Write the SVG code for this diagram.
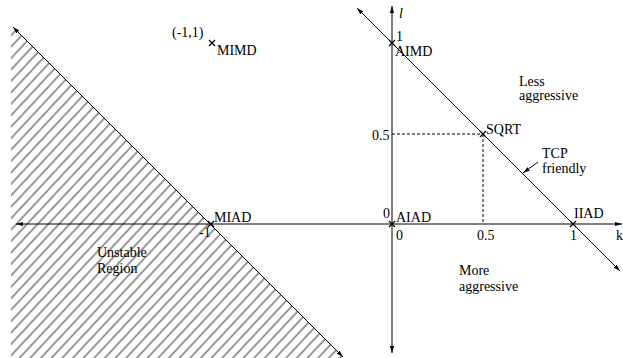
<svg xmlns="http://www.w3.org/2000/svg" width="623" height="358" viewBox="0 0 623 358">
<style>
text{font-family:"Liberation Serif","Times New Roman",serif;font-size:14px;fill:#000}
.ln{stroke:#000;stroke-width:1;fill:none}
.dash{stroke:#000;stroke-width:1;fill:none;stroke-dasharray:3,2}
.x{stroke:#000;stroke-width:1.2;fill:none}
.hl{stroke:#000;stroke-width:0.8}
</style>
<defs>
<marker id="ah" viewBox="0 0 10 10" refX="10" refY="5" markerWidth="7" markerHeight="7" markerUnits="userSpaceOnUse" orient="auto-start-reverse">
<path d="M0,2 L10,5 L0,8 Z" fill="#000"/>
</marker>
<pattern id="hatch" width="7.8" height="10" patternUnits="userSpaceOnUse" patternTransform="rotate(43)">
<line x1="1" y1="0" x2="1" y2="10" class="hl"/>
</pattern>
<clipPath id="cp"><polygon points="11,25 343,357 343,358 11,358"/></clipPath>
</defs>
<g id="unstable-region">
<rect x="0" y="0" width="360" height="358" fill="url(#hatch)" clip-path="url(#cp)"/>
<text x="97" y="257">Unstable</text>
<text x="97" y="273">Region</text>
</g>
<g id="connectors">
<line class="ln" x1="16" y1="224" x2="622" y2="224" marker-start="url(#ah)" marker-end="url(#ah)"/>
<line class="ln" x1="392" y1="6" x2="392" y2="353" marker-start="url(#ah)" marker-end="url(#ah)"/>
<line class="ln" x1="357" y1="8" x2="620" y2="271" marker-start="url(#ah)" marker-end="url(#ah)"/>
<line class="ln" x1="13" y1="27" x2="343" y2="357" marker-start="url(#ah)" marker-end="url(#ah)"/>
<line class="dash" x1="392" y1="134" x2="483" y2="134"/>
<line class="dash" x1="483" y1="134" x2="483" y2="224"/>
<line class="ln" x1="538" y1="162" x2="523" y2="173" marker-end="url(#ah)"/>
</g>
<g id="axis-labels">
<text x="399" y="18" font-style="italic">l</text>
<text x="396" y="41">1</text>
<text x="372" y="140">0.5</text>
<text x="383" y="218">0</text>
<text x="396" y="240">0</text>
<text x="477" y="240">0.5</text>
<text x="570" y="240">1</text>
<text x="616" y="240">k</text>
<text x="199" y="237">-1</text>
</g>
<g id="MIMD">
<path class="x" d="M209,40 L215,46 M215,40 L209,46"/>
<text x="172" y="37">(-1,1)</text>
<text x="217" y="55">MIMD</text>
</g>
<g id="AIMD">
<path class="x" d="M389,40 L395,46 M395,40 L389,46"/>
<text x="395" y="56">AIMD</text>
</g>
<g id="SQRT">
<path class="x" d="M480,131 L486,137 M486,131 L480,137"/>
<text x="486" y="134">SQRT</text>
</g>
<g id="AIAD">
<path class="x" d="M389,221 L395,227 M395,221 L389,227"/>
<text x="396" y="222">AIAD</text>
</g>
<g id="IIAD">
<path class="x" d="M570,221 L576,227 M576,221 L570,227"/>
<text x="574" y="218">IIAD</text>
</g>
<g id="MIAD">
<path class="x" d="M208,221 L214,227 M214,221 L208,227"/>
<text x="214" y="222">MIAD</text>
</g>
<g id="less-aggressive">
<text x="519" y="86">Less</text>
<text x="519" y="100">aggressive</text>
</g>
<g id="tcp-friendly">
<text x="542" y="158">TCP</text>
<text x="542" y="173">friendly</text>
</g>
<g id="more-aggressive">
<text x="459" y="275">More</text>
<text x="459" y="291">aggressive</text>
</g>
</svg>
